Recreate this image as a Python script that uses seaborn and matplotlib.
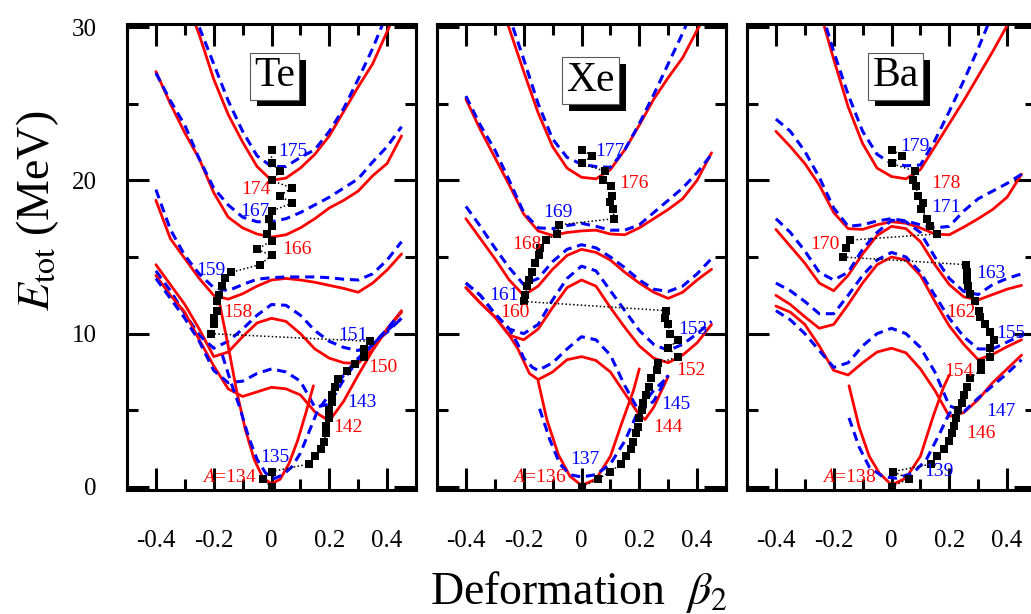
import matplotlib
matplotlib.use('Agg')
import matplotlib.pyplot as plt
import matplotlib.patheffects as pe
from matplotlib.ticker import MultipleLocator
import seaborn as sns

# deformation grid shared by the full-range curves
beta = [-0.4, -0.35, -0.3, -0.25, -0.2, -0.15, -0.1, -0.05, 0.0,
        0.05, 0.1, 0.15, 0.2, 0.25, 0.3, 0.35, 0.4, 0.45]

# ---------------- Te ----------------
te_r174 = [37.5, 34.8, 32.0, 29.5, 26.6, 24.3, 22.5, 20.9, 20.0, 20.15, 20.8, 21.7, 22.9, 24.5, 26.1, 27.6, 29.7, 31.8]
te_b175 = [38.5, 35.6, 32.8, 30.0, 27.6, 25.2, 23.2, 21.6, 20.9, 20.9, 21.5, 22.0, 23.2, 24.7, 26.6, 28.6, 30.9, 33.0]
te_r166 = [27.1, 25.0, 23.1, 21.4, 19.2, 17.6, 16.9, 16.5, 16.3, 16.45, 16.9, 17.5, 18.2, 18.7, 19.3, 20.3, 21.1, 22.9]
te_b167 = [27.0, 25.2, 23.6, 21.4, 19.5, 18.4, 17.6, 17.3, 17.3, 17.5, 17.9, 18.4, 18.9, 19.5, 20.1, 21.2, 22.2, 23.5]
te_r158 = [18.7, 16.2, 14.9, 13.6, 12.5, 12.25, 12.6, 13.1, 13.5, 13.6, 13.5, 13.35, 13.15, 12.95, 12.7, 13.3, 14.15, 15.2]
te_b159 = [19.4, 16.8, 15.1, 13.9, 13.0, 12.8, 13.2, 13.55, 13.65, 13.7, 13.7, 13.7, 13.65, 13.55, 13.5, 13.9, 14.8, 16.0]
te_r150 = [14.5, 13.2, 11.9, 10.3, 8.5, 8.8, 9.8, 10.7, 11.0, 10.8, 10.0, 9.0, 8.4, 8.1, 8.05, 9.0, 10.3, 11.4]
te_b151 = [14.1, 12.8, 11.3, 9.9, 9.05, 9.5, 10.3, 11.2, 11.9, 11.85, 11.2, 10.2, 9.5, 9.1, 8.9, 9.3, 10.1, 11.0]
te_r142 = [13.8, 12.5, 11.4, 9.6, 7.9, 6.4, 5.9, 6.2, 6.5, 6.4, 6.0, 4.9, 4.3, 5.6, 7.3, 8.9, 10.3, 11.5]
te_b143 = [13.6, 12.3, 11.0, 9.5, 7.6, 6.8, 6.9, 7.4, 7.7, 7.5, 6.9, 5.2, 5.4, 7.0, 8.3, 9.3, 10.2, 11.0]
te_r134_b = [-0.18, -0.15, -0.12, -0.09, -0.06, -0.03, 0.0, 0.03, 0.06, 0.09, 0.12, 0.145]
te_r134_e = [12.0, 9.2, 6.2, 3.7, 1.8, 0.6, 0.2, 0.5, 1.5, 3.0, 4.9, 6.6]
te_b135_b = [-0.17, -0.14, -0.11, -0.08, -0.05, -0.02, 0.01, 0.04, 0.07, 0.1, 0.13, 0.16, 0.2, 0.25, 0.3, 0.35, 0.4, 0.44]
te_b135_e = [8.6, 6.8, 5.2, 3.3, 1.8, 0.9, 0.55, 0.8, 1.3, 2.2, 3.6, 5.0, 6.0, 7.3, 8.4, 9.3, 10.3, 11.2]
te_sq_b = [0.0, -0.03, 0.0, 0.13, 0.15, 0.17, 0.18, 0.19, 0.19, 0.2, 0.2, 0.21, 0.21, 0.22, 0.23,
           0.26, 0.29, 0.32, 0.32, 0.34, -0.21, -0.2, -0.2, -0.19, -0.19, -0.18, -0.17, -0.16, -0.14,
           -0.04, 0.0, -0.05, 0.0, -0.015, 0.0, -0.01, 0.0, 0.07, 0.03, 0.07, 0.0, 0.03, 0.0, 0.0]
te_sq_e = [0.0, 0.5, 1.0, 1.5, 2.0, 2.45, 2.95, 3.5, 3.95, 4.5, 5.0, 5.55, 6.0, 6.5, 7.05,
           7.55, 8.0, 8.5, 9.0, 9.5, 10.0, 10.6, 11.0, 11.5, 12.1, 12.5, 13.1, 13.6, 14.0,
           14.5, 15.1, 15.5, 16.05, 16.5, 17.0, 17.5, 18.0, 18.5, 19.0, 19.5, 20.0, 20.6, 21.1, 22.0]

# ---------------- Xe ----------------
xe_r176 = [37.5, 35.0, 32.5, 29.9, 27.1, 24.4, 22.2, 20.8, 20.2, 20.1, 20.7, 22.0, 23.6, 25.3, 26.7, 28.0, 29.8, 31.5]
xe_b177 = [39.0, 36.5, 33.5, 30.7, 27.9, 25.0, 22.7, 21.5, 21.05, 20.9, 20.85, 22.0, 23.7, 25.6, 27.6, 29.6, 31.8, 34.0]
xe_r168 = [25.3, 23.3, 21.5, 19.7, 17.8, 16.7, 16.4, 16.6, 16.7, 16.75, 16.5, 16.45, 16.9, 17.5, 18.1, 18.8, 20.0, 21.8]
xe_b169 = [25.5, 23.6, 22.0, 20.0, 17.9, 16.9, 16.85, 17.05, 17.2, 17.0, 16.75, 16.75, 17.1, 17.9, 18.7, 19.5, 20.5, 21.7]
xe_r160 = [17.5, 16.2, 14.9, 13.5, 12.5, 13.1, 14.2, 15.1, 15.5, 15.3, 14.8, 14.0, 13.3, 12.7, 12.3, 12.7, 13.5, 14.2]
xe_b161 = [18.3, 17.0, 15.6, 14.3, 13.2, 13.6, 14.7, 15.5, 15.8, 15.6, 15.0, 14.3, 13.5, 12.9, 12.75, 13.1, 13.9, 14.9]
xe_r152 = [13.0, 12.0, 11.1, 9.9, 9.6, 10.3, 11.7, 13.0, 13.5, 13.1, 11.7, 10.4, 9.2, 8.4, 8.1, 8.6, 9.4, 10.6]
xe_b153 = [13.3, 12.5, 11.3, 10.3, 10.0, 10.6, 12.2, 13.6, 14.4, 14.1, 12.8, 11.5, 10.2, 9.3, 8.9, 9.3, 10.0, 10.8]
xe_r144_b = [-0.4, -0.35, -0.3, -0.25, -0.22, -0.2, -0.18, -0.15, -0.1, -0.05, 0.0, 0.05, 0.1, 0.15, 0.2, 0.22, 0.25, 0.3]
xe_r144_e = [13.0, 12.0, 11.1, 9.9, 9.0, 8.2, 7.4, 7.0, 7.5, 8.3, 8.5, 8.25, 7.5, 6.1, 4.7, 4.4, 5.2, 7.2]
xe_b145_b = [-0.4, -0.35, -0.3, -0.25, -0.22, -0.2, -0.17, -0.15, -0.1, -0.05, 0.0, 0.05, 0.1, 0.15, 0.2, 0.25, 0.3]
xe_b145_e = [13.3, 12.5, 11.3, 10.3, 9.3, 8.4, 7.8, 7.6, 8.1, 9.0, 9.8, 9.6, 8.6, 6.6, 4.9, 5.6, 7.3]
xe_r136_b = [-0.15, -0.12, -0.08, -0.04, 0.0, 0.05, 0.1, 0.14, 0.18, 0.2]
xe_r136_e = [6.9, 4.4, 2.1, 0.7, 0.1, 0.5, 2.0, 4.2, 6.3, 7.7]
xe_b137_b = [-0.145, -0.11, -0.075, -0.04, 0.0, 0.05, 0.1, 0.15, 0.2, 0.25, 0.3]
xe_b137_e = [5.1, 3.1, 1.5, 0.8, 0.65, 0.8, 1.5, 3.0, 5.1, 6.3, 7.2]
xe_sq_b = [0.0, 0.056, 0.1, 0.137, 0.155, 0.17, 0.178, 0.187, 0.195, 0.199, 0.21, 0.213, 0.222, 0.234, 0.24,
           0.26, 0.266, 0.335, 0.3, 0.335, 0.306, 0.3, 0.29, 0.294, -0.2, -0.194, -0.188, -0.183, -0.173,
           -0.162, -0.148, -0.142, -0.124, -0.084, -0.078, 0.114, 0.108, 0.097, 0.106, 0.102, 0.076, 0.08,
           0.0, 0.038, 0.0]
xe_sq_e = [0.0, 0.5, 1.0, 1.5, 2.0, 2.5, 2.96, 3.5, 3.9, 4.5, 5.0, 5.5, 6.0, 6.5, 7.1,
           7.6, 8.07, 8.5, 9.04, 9.6, 10.0, 10.6, 11.0, 11.5, 12.1, 12.5, 13.1, 13.5, 14.0,
           14.6, 15.1, 15.6, 16.1, 16.5, 17.1, 17.5, 18.1, 18.6, 19.0, 19.6, 20.0, 20.6,
           21.1, 21.6, 22.0]

# ---------------- Ba ----------------
ba_r178 = [40.5, 37.5, 34.5, 31.2, 27.9, 24.8, 22.4, 20.8, 20.25, 20.1, 20.7, 22.2, 23.7, 25.2, 26.8, 28.4, 30.1, 32.0]
ba_b179 = [41.0, 38.0, 34.8, 31.5, 28.4, 25.6, 23.2, 21.7, 21.1, 20.95, 21.0, 22.6, 24.5, 26.5, 28.6, 30.9, 33.0, 35.0]
ba_r170 = [23.2, 22.2, 21.1, 19.7, 17.9, 16.85, 16.8, 17.1, 17.3, 17.2, 16.9, 16.5, 16.45, 16.95, 17.5, 18.1, 18.9, 20.4]
ba_b171 = [24.0, 23.2, 21.9, 20.2, 18.2, 17.0, 17.1, 17.35, 17.5, 17.35, 17.1, 16.9, 17.0, 18.0, 18.8, 19.3, 19.8, 20.4]
ba_r162 = [16.8, 15.7, 14.6, 13.3, 12.8, 13.8, 15.2, 16.4, 17.0, 16.85, 16.0, 14.5, 13.2, 12.4, 12.2, 12.55, 12.9, 13.15]
ba_b163 = [17.5, 16.6, 15.4, 14.0, 13.5, 14.0, 15.5, 16.6, 17.4, 17.3, 16.6, 15.0, 13.6, 12.75, 12.55, 13.2, 13.6, 13.9]
ba_r154 = [12.5, 11.9, 11.1, 10.35, 10.6, 11.9, 13.3, 14.5, 15.0, 14.8, 13.8, 12.1, 10.5, 9.3, 8.3, 8.65, 9.15, 9.6]
ba_b155 = [13.3, 12.8, 12.1, 11.3, 11.3, 12.5, 13.8, 14.8, 15.3, 15.0, 14.0, 12.5, 11.0, 9.8, 9.0, 9.0, 9.45, 9.9]
ba_r146 = [11.8, 11.4, 10.6, 9.2, 7.6, 7.3, 8.1, 8.8, 9.05, 8.75, 7.7, 6.3, 4.6, 4.85, 5.7, 6.8, 7.7, 8.6]
ba_b147 = [11.5, 10.9, 10.0, 8.9, 7.8, 8.1, 9.2, 10.0, 10.35, 10.0, 9.1, 7.5, 5.3, 4.9, 5.8, 6.6, 7.4, 8.3]
ba_r138_b = [-0.147, -0.112, -0.077, -0.042, 0.0, 0.05, 0.1, 0.144, 0.18, 0.2]
ba_r138_e = [6.6, 3.9, 2.0, 0.9, 0.13, 0.57, 2.0, 4.6, 6.5, 7.3]
ba_b139_b = [-0.147, -0.112, -0.077, -0.03, 0.016, 0.074, 0.12, 0.167, 0.2, 0.22]
ba_b139_e = [4.5, 2.6, 1.3, 0.67, 0.57, 0.9, 1.76, 3.5, 4.8, 5.1]
ba_sq_b = [0.0, 0.06, 0.005, 0.138, 0.156, 0.183, 0.2, 0.21, 0.217, 0.223, 0.23, 0.243, 0.25, 0.26, 0.27,
           0.31, 0.31, 0.34, 0.34, 0.353, 0.34, 0.324, 0.307, 0.303, 0.29, 0.272, 0.266, 0.26, 0.26,
           0.257, -0.168, -0.156, -0.145, 0.156, 0.133, 0.123, 0.103, 0.108, 0.09, 0.085, 0.074,
           0.08, 0.0, 0.038, 0.0]
ba_sq_e = [0.0, 0.55, 1.0, 1.5, 2.0, 2.5, 3.0, 3.5, 4.0, 4.5, 5.0, 5.5, 6.0, 6.5, 7.1,
           7.6, 8.07, 8.5, 9.04, 9.6, 10.1, 10.6, 11.1, 11.5, 12.1, 12.6, 13.1, 13.5, 14.0,
           14.5, 15.0, 15.6, 16.1, 16.5, 17.0, 17.5, 18.1, 18.5, 19.0, 19.6, 20.0, 20.6,
           21.1, 21.6, 22.0]

# mass-number labels (text, beta, E, colour)
te_labels = [('175', 0.073, 21.85, 'b'), ('174', -0.053, 19.4, 'r'), ('167', -0.059, 17.95, 'b'),
             ('166', 0.087, 15.5, 'r'), ('159', -0.209, 14.15, 'b'), ('158', -0.118, 11.4, 'r'),
             ('151', 0.283, 9.9, 'b'), ('150', 0.387, 7.8, 'r'), ('143', 0.314, 5.5, 'b'),
             ('142', 0.265, 3.85, 'r'), ('135', 0.01, 1.9, 'b'), ('$A$=134', -0.146, 0.65, 'r')]
xe_labels = [('177', 0.1, 21.85, 'b'), ('176', 0.18, 19.8, 'r'), ('169', -0.082, 17.9, 'b'),
             ('168', -0.19, 15.8, 'r'), ('161', -0.267, 12.5, 'b'), ('160', -0.232, 11.35, 'r'),
             ('153', 0.385, 10.24, 'b'), ('152', 0.378, 7.6, 'r'), ('145', 0.326, 5.35, 'b'),
             ('144', 0.298, 3.85, 'r'), ('137', 0.012, 1.76, 'b'), ('$A$=136', -0.145, 0.65, 'r')]
ba_labels = [('179', 0.082, 22.2, 'b'), ('178', 0.187, 19.8, 'r'), ('171', 0.187, 18.2, 'b'),
             ('170', -0.232, 15.8, 'r'), ('163', 0.343, 13.95, 'b'), ('162', 0.239, 11.4, 'r'),
             ('155', 0.413, 10.0, 'b'), ('154', 0.232, 7.5, 'r'), ('147', 0.378, 4.9, 'b'),
             ('146', 0.308, 3.5, 'r'), ('139', 0.163, 1.0, 'b'), ('$A$=138', -0.145, 0.65, 'r')]

xticks = [-0.4, -0.2, 0.0, 0.2, 0.4]
xticklabels = ['-0.4', '-0.2', '0', '0.2', '0.4']
yticks = [0, 10, 20, 30]

sns.set_style('ticks')
plt.rcParams['font.family'] = ['Liberation Serif', 'DejaVu Serif']
plt.rcParams['mathtext.fontset'] = 'stix'
plt.rcParams['axes.unicode_minus'] = False
for key in ['text.color', 'axes.labelcolor', 'xtick.color', 'ytick.color', 'axes.edgecolor']:
    plt.rcParams[key] = 'black'

RED = '#ff0000'
BLUE = '#0000ff'
cols = {'r': RED, 'b': BLUE}

panels = [
    ('Te', (0.01, 26.8),
     [(beta, te_r174, 'r'), (beta, te_b175, 'b'), (beta, te_r166, 'r'), (beta, te_b167, 'b'),
      (beta, te_r158, 'r'), (beta, te_b159, 'b'), (beta, te_r150, 'r'), (beta, te_b151, 'b'),
      (beta, te_r142, 'r'), (beta, te_b143, 'b'), (te_r134_b, te_r134_e, 'r'), (te_b135_b, te_b135_e, 'b')],
     (te_sq_b, te_sq_e), te_labels),
    ('Xe', (0.03, 26.5),
     [(beta, xe_r176, 'r'), (beta, xe_b177, 'b'), (beta, xe_r168, 'r'), (beta, xe_b169, 'b'),
      (beta, xe_r160, 'r'), (beta, xe_b161, 'b'), (beta, xe_r152, 'r'), (beta, xe_b153, 'b'),
      (xe_r144_b, xe_r144_e, 'r'), (xe_b145_b, xe_b145_e, 'b'), (xe_r136_b, xe_r136_e, 'r'),
      (xe_b137_b, xe_b137_e, 'b')],
     (xe_sq_b, xe_sq_e), xe_labels),
    ('Ba', (0.015, 26.8),
     [(beta, ba_r178, 'r'), (beta, ba_b179, 'b'), (beta, ba_r170, 'r'), (beta, ba_b171, 'b'),
      (beta, ba_r162, 'r'), (beta, ba_b163, 'b'), (beta, ba_r154, 'r'), (beta, ba_b155, 'b'),
      (beta, ba_r146, 'r'), (beta, ba_b147, 'b'), (ba_r138_b, ba_r138_e, 'r'), (ba_b139_b, ba_b139_e, 'b')],
     (ba_sq_b, ba_sq_e), ba_labels),
]

W, H = 1031, 614
fig = plt.figure(figsize=(W / 100, H / 100), dpi=100)
lefts = [127, 437, 747]

for i, (elem, epos, curves, chain, labels) in enumerate(panels):
    ax = fig.add_axes([lefts[i] / W, 124 / H, 289 / W, 466 / H])

    for b, e, kind in curves:
        if kind == 'r':
            sns.lineplot(x=b, y=e, ax=ax, color=RED, lw=2.0, sort=False, estimator=None)
        else:
            sns.lineplot(x=b, y=e, ax=ax, color=BLUE, lw=2.2, sort=False, estimator=None,
                         linestyle=(0, (3.0, 1.9)))

    # ground-state chain
    sns.lineplot(x=chain[0], y=chain[1], ax=ax, color='k', lw=1.1, sort=False, estimator=None,
                 linestyle=(0, (1, 1.5)), marker='s', markersize=5.5, mec='k', mfc='k', mew=0,
                 zorder=5)

    for txt, bx, ey, c in labels:
        ax.text(bx, ey, txt, color=cols[c], fontsize=14, ha='center', va='center', zorder=6)

    t = ax.text(epos[0], epos[1], elem, fontsize=30, ha='center', va='center', zorder=7,
                bbox=dict(boxstyle='square,pad=0.1', fc='white', ec='0.35', lw=0.8))
    t.get_bbox_patch().set_path_effects([
        pe.SimplePatchShadow(offset=(5, -5), shadow_rgbFace='k', alpha=1.0), pe.Normal()])

    ax.set_xlim(-0.5, 0.5)
    ax.set_ylim(-0.2, 30.2)
    ax.set_xticks(xticks)
    ax.set_xticklabels(xticklabels)
    ax.set_yticks(yticks)
    ax.xaxis.set_minor_locator(MultipleLocator(0.1))
    ax.yaxis.set_minor_locator(MultipleLocator(5))
    ax.tick_params(which='both', direction='in', top=True, right=True, width=2.2, color='k')
    ax.tick_params(which='major', length=16)
    ax.tick_params(which='minor', length=8)
    ax.tick_params(axis='x', which='major', pad=29, labelsize=18)
    ax.tick_params(axis='y', which='major', pad=22, labelsize=18, labelleft=(i == 0))
    ax.set_xlabel('')
    ax.set_ylabel('')
    for sp in ax.spines.values():
        sp.set_linewidth(2.2)
        sp.set_color('k')

fig.text(38 / W, 1 - 211 / H, r'$E_{\rm tot}$ (MeV)', rotation=90, fontsize=33,
         ha='center', va='center')
fig.text(430 / W, 10 / H, r'Deformation  $\beta_2$', fontsize=33, ha='left', va='baseline')

fig.savefig('out.png', dpi=100)
